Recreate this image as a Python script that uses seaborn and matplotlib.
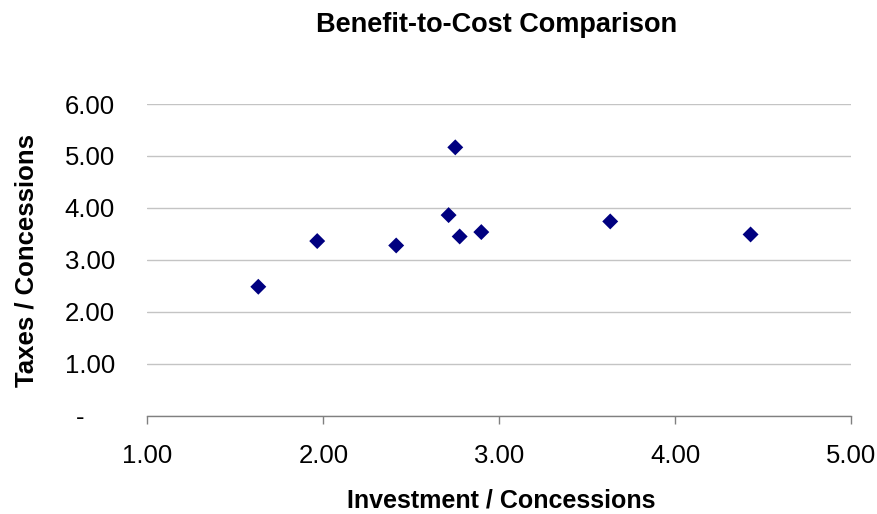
import matplotlib
matplotlib.use("Agg")
import matplotlib.pyplot as plt
import matplotlib.transforms as mtransforms
import seaborn as sns
import pandas as pd
from matplotlib.ticker import FuncFormatter

investment_ratio = [1.63, 1.965, 2.414, 2.712, 2.750, 2.775, 2.898, 3.631, 4.429]
taxes_ratio = [2.48, 3.36, 3.275, 3.86, 5.165, 3.448, 3.533, 3.738, 3.487]
x_ticks = [1, 2, 3, 4, 5]
y_ticks = [0, 1, 2, 3, 4, 5, 6]

df = pd.DataFrame({"x": investment_ratio, "y": taxes_ratio})

sns.set_theme(style="white")
plt.rcParams['font.family'] = ['Liberation Sans', 'DejaVu Sans']
plt.rcParams['text.color'] = 'black'
plt.rcParams['axes.labelcolor'] = 'black'
plt.rcParams['xtick.color'] = 'black'
plt.rcParams['ytick.color'] = 'black'

fig = plt.figure(figsize=(8.78, 5.14), dpi=100)
ax = fig.add_axes([147.5 / 878, 1 - 415.5 / 514, 703.5 / 878, 311.5 / 514])

sns.scatterplot(data=df, x="x", y="y", ax=ax, marker="D", s=66,
                color="#000080", edgecolor="none", linewidth=0, zorder=3)

ax.set_xlim(1, 5)
ax.set_ylim(0, 6)
ax.set_xticks(x_ticks)
ax.set_yticks(y_ticks)
ax.xaxis.set_major_formatter(FuncFormatter(lambda v, p: f"{v:.2f}"))
ax.yaxis.set_major_formatter(FuncFormatter(lambda v, p: "-" if abs(v) < 1e-9 else f"{v:.2f}"))

ax.yaxis.grid(True, color="#c4c4c4", linewidth=1.0)
ax.xaxis.grid(False)
for s in ["top", "right", "left"]:
    ax.spines[s].set_visible(False)
ax.spines["bottom"].set_color("#808080")
ax.spines["bottom"].set_linewidth(1.0)

ax.tick_params(axis="x", which="major", direction="out", length=6.1, width=1,
               color="#808080", labelcolor="black", labelsize=18.5, pad=14.4, bottom=True)
ax.tick_params(axis="y", length=0, labelsize=18.5, pad=23.4, labelcolor="black")

# Excel-style accounting zero "-" sits left of the right-aligned numbers
fig.canvas.draw()
zero_lab = ax.yaxis.get_major_ticks()[0].label1
zero_lab.set_transform(zero_lab.get_transform() +
                       mtransforms.ScaledTranslation(-31 / 100, 0, fig.dpi_scale_trans))

ax.set_xlabel("Investment / Concessions", fontsize=18, fontweight="bold", va="baseline")
ax.set_ylabel("Taxes / Concessions", fontsize=18.5, fontweight="bold")
ax.xaxis.set_label_coords(0.5025, (415.5 - 507.5) / 311.5)
ax.yaxis.set_label_coords(-0.1553, 0.499)
fig.suptitle("Benefit-to-Cost Comparison", fontsize=19.5, fontweight="bold",
             x=0.5655, y=0.9757, va="top")

fig.savefig("out.png", dpi=100)
